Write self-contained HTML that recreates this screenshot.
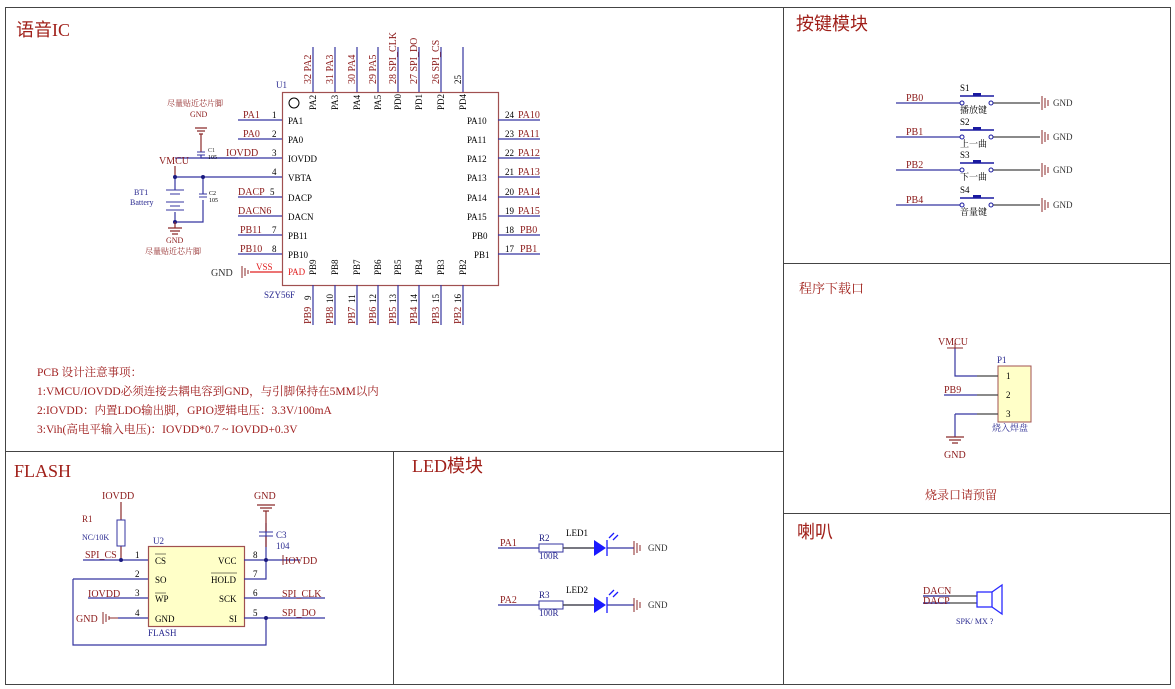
<!DOCTYPE html>
<html><head><meta charset="utf-8"><style>
html,body{margin:0;padding:0;background:#fff;}
svg{display:block;font-family:"Liberation Serif","Noto Serif CJK SC",serif;}
.t{fill:#000;font-size:9px}
.r{fill:#8b1a1a;font-size:10px}
.b{fill:#2a2a90;font-size:9px}
.w{stroke:#3535a0;stroke-width:1.2;fill:none}
.k{stroke:#444;stroke-width:1.2;fill:none}
.g{stroke:#8b2a2a;stroke-width:1.2;fill:none}
.h{fill:#a0201a;font-size:18px;font-family:"Liberation Serif","Noto Sans CJK SC",serif}
</style></head><body>
<svg width="1175" height="689" viewBox="0 0 1175 689">
<!-- frames -->
<g stroke="#444" stroke-width="1" fill="none">
<rect x="5.5" y="7.5" width="1165" height="677"/>
<line x1="783.5" y1="7" x2="783.5" y2="684"/>
<line x1="5" y1="451.5" x2="783" y2="451.5"/>
<line x1="393.5" y1="451" x2="393.5" y2="684"/>
<line x1="783" y1="263.5" x2="1170" y2="263.5"/>
<line x1="783" y1="513.5" x2="1170" y2="513.5"/>
</g>
<text x="16" y="36" class="h">语音IC</text>
<text x="796" y="30" class="h">按键模块</text>
<text x="14" y="477" class="h">FLASH</text>
<text x="412" y="472" class="h">LED模块</text>
<text x="797" y="538" class="h">喇叭</text>
<text x="799" y="293" style="fill:#a0201a;font-size:13px">程序下载口</text>
<text x="925" y="499" style="fill:#a0201a;font-size:12px">烧录口请预留</text>

<!-- U1 -->
<rect x="282.5" y="92.5" width="216" height="193" fill="#fff" stroke="#a05050" stroke-width="1.2"/>
<circle cx="294" cy="103" r="5" fill="none" stroke="#000"/>
<text x="276" y="88" class="b">U1</text>
<text x="264" y="298" class="b">SZY56F</text>
<!-- top pins -->
<g class="w">
<path d="M313 47V92M335 47V92M357 47V92M378 47V92M398 47V92M419 47V92M441 47V92M463 47V92"/>
<path d="M313 285V325M335 285V325M357 285V325M378 285V325M398 285V325M419 285V325M441 285V325M463 285V325"/>
<path d="M238 120H282M238 139H282M175 158H282M175 177H282M238 197H282M238 216H282M238 235H282M238 254H282"/>
<path d="M498 120H540M498 139H540M498 158H540M498 177H540M498 197H540M498 216H540M498 235H540M498 254H540"/>
</g>
<g style="font-size:9px" class="t">
<g transform="rotate(-90)">
<text x="-84" y="311" class="r">32 PA2</text><text x="-84" y="333" class="r">31 PA3</text><text x="-84" y="355" class="r">30 PA4</text><text x="-84" y="376" class="r">29 PA5</text><text x="-84" y="396" class="r">28 SPI_CLK</text><text x="-84" y="417" class="r">27 SPI_DO</text><text x="-84" y="439" class="r">26 SPI_CS</text><text x="-84" y="461">25</text>
<text x="-110" y="316">PA2</text><text x="-110" y="338">PA3</text><text x="-110" y="360">PA4</text><text x="-110" y="381">PA5</text><text x="-110" y="401">PD0</text><text x="-110" y="422">PD1</text><text x="-110" y="444">PD2</text><text x="-110" y="466">PD4</text>
<text x="-275" y="316">PB9</text><text x="-275" y="338">PB8</text><text x="-275" y="360">PB7</text><text x="-275" y="381">PB6</text><text x="-275" y="401">PB5</text><text x="-275" y="422">PB4</text><text x="-275" y="444">PB3</text><text x="-275" y="466">PB2</text>
<text x="-300" y="311">9</text><text x="-303" y="333">10</text><text x="-303" y="355">11</text><text x="-303" y="376">12</text><text x="-303" y="396">13</text><text x="-303" y="417">14</text><text x="-303" y="439">15</text><text x="-303" y="461">16</text>
<text x="-324" y="311" class="r">PB9</text><text x="-324" y="333" class="r">PB8</text><text x="-324" y="355" class="r">PB7</text><text x="-324" y="376" class="r">PB6</text><text x="-324" y="396" class="r">PB5</text><text x="-324" y="417" class="r">PB4</text><text x="-324" y="439" class="r">PB3</text><text x="-324" y="461" class="r">PB2</text>
</g>
<text x="288" y="124">PA1</text><text x="288" y="143">PA0</text><text x="288" y="162">IOVDD</text><text x="288" y="181">VBTA</text><text x="288" y="201">DACP</text><text x="288" y="220">DACN</text><text x="288" y="239">PB11</text><text x="288" y="258">PB10</text>
<text x="288" y="275" style="fill:#e02020">PAD</text>
<text x="272" y="118">1</text><text x="272" y="137">2</text><text x="272" y="156">3</text><text x="272" y="175">4</text><text x="270" y="195">5</text><text x="270" y="214"></text><text x="272" y="233">7</text><text x="272" y="252">8</text>
<text x="243" y="118" class="r">PA1</text><text x="243" y="137" class="r">PA0</text><text x="226" y="156" class="r">IOVDD</text><text x="238" y="195" class="r">DACP</text><text x="238" y="214" class="r">DACN6</text><text x="240" y="233" class="r">PB11</text><text x="240" y="252" class="r">PB10</text>
<text x="467" y="124">PA10</text><text x="467" y="143">PA11</text><text x="467" y="162">PA12</text><text x="467" y="181">PA13</text><text x="467" y="201">PA14</text><text x="467" y="220">PA15</text><text x="472" y="239">PB0</text><text x="474" y="258">PB1</text>
<text x="505" y="118">24</text><text x="505" y="137">23</text><text x="505" y="156">22</text><text x="505" y="175">21</text><text x="505" y="195">20</text><text x="505" y="214">19</text><text x="505" y="233">18</text><text x="505" y="252">17</text>
<text x="518" y="118" class="r">PA10</text><text x="518" y="137" class="r">PA11</text><text x="518" y="156" class="r">PA12</text><text x="518" y="175" class="r">PA13</text><text x="518" y="195" class="r">PA14</text><text x="518" y="214" class="r">PA15</text><text x="520" y="233" class="r">PB0</text><text x="520" y="252" class="r">PB1</text>
</g>
<!-- VSS -->
<path d="M250 272H282" stroke="#e02020" stroke-width="1.2"/>
<text x="256" y="270" style="fill:#e02020;font-size:9px">VSS</text>
<path d="M242 266V278M245 268V276M248 270V274" stroke="#8b2a2a"/>
<text x="211" y="276" class="r" style="fill:#333">GND</text>
<!-- C1, C2, battery -->
<g class="g"><path d="M195 128H207M197 131H205M199 134H203M201 134V152"/></g>
<text x="167" y="106" class="r" style="font-size:8px">尽量贴近芯片脚</text>
<text x="190" y="117" class="r" style="font-size:8px">GND</text>
<path d="M197 152H205M197 155H205" stroke="#3535a0"/><path d="M201 155V158H238" class="w"/>
<text x="208" y="152" class="r" style="font-size:6px;fill:#333">C1</text><text x="208" y="159" style="font-size:6px">105</text>
<text x="159" y="164" class="r">VMCU</text>
<path d="M175 166V177" class="g"/>
<path d="M175 177V190M175 212V222M203 177V194M203 200V222H175" class="w"/>
<path d="M199 194H207M199 197H207" stroke="#3535a0"/>
<path d="M166 190H184M170 194H180M166 202H184M170 206H180M166 210H184" stroke="#3535a0"/>
<circle cx="175" cy="177" r="2" fill="#1a1a80"/><circle cx="203" cy="177" r="2" fill="#1a1a80"/><circle cx="175" cy="222" r="2" fill="#1a1a80"/>
<path d="M175 222V228M168 228H182M170 231H180M172 234H178" class="g"/>
<text x="209" y="195" style="font-size:6px">C2</text><text x="209" y="202" style="font-size:6px">105</text>
<text x="134" y="195" class="b" style="font-size:8px">BT1</text><text x="130" y="205" class="b" style="font-size:8px">Battery</text>
<text x="166" y="243" class="r" style="font-size:8px">GND</text>
<text x="145" y="254" class="r" style="font-size:8px">尽量贴近芯片脚</text>
<!-- notes -->
<g class="r" style="font-size:11.5px;fill:#a02020">
<text x="37" y="376">PCB 设计注意事项：</text>
<text x="37" y="395">1:VMCU/IOVDD必须连接去耦电容到GND，与引脚保持在5MM以内</text>
<text x="37" y="414">2:IOVDD：内置LDO输出脚，GPIO逻辑电压：3.3V/100mA</text>
<text x="37" y="433">3:Vih(高电平输入电压)：IOVDD*0.7 ~ IOVDD+0.3V</text>
</g>

<!-- FLASH U2 -->
<rect x="148.5" y="546.5" width="96" height="80" fill="#ffffc8" stroke="#a05050" stroke-width="1.2"/>
<text x="153" y="544" class="b">U2</text><text x="148" y="636" class="b">FLASH</text>
<g class="w"><path d="M83 560H148M73 579H148M73 579V645H266V618M88 598H148M118 618H148M244 560H300M244 579H266V560M266 560V523M244 598H325M244 618H325"/></g>
<text x="82" y="522" class="r" style="font-size:9px">R1</text><text x="82" y="540" class="b" style="font-size:8px">NC/10K</text>
<text x="102" y="499" class="r">IOVDD</text>
<path d="M121 502V520M121 546V560" class="g"/><rect x="117" y="520" width="8" height="26" fill="#fff" stroke="#3535a0"/>
<circle cx="121" cy="560" r="2" fill="#1a1a80"/><circle cx="266" cy="560" r="2" fill="#1a1a80"/><circle cx="266" cy="618" r="2" fill="#1a1a80"/>
<text x="85" y="558" class="r">SPI_CS</text><text x="88" y="597" class="r">IOVDD</text>
<text x="76" y="622" class="r">GND</text><path d="M103 612V624M106 614V622M109 616V620M109 618H118" stroke="#8b2a2a"/>
<text x="135" y="558" class="t">1</text><text x="135" y="577" class="t">2</text><text x="135" y="596" class="t">3</text><text x="135" y="616" class="t">4</text>
<text x="155" y="564" class="t">CS</text><text x="155" y="583" class="t">SO</text><text x="155" y="602" class="t">WP</text><text x="155" y="622" class="t">GND</text>
<path d="M155 554H166M155 593H166" stroke="#000" stroke-width=".6"/>
<text x="218" y="564" class="t">VCC</text><text x="211" y="583" class="t">HOLD</text><path d="M211 573H237" stroke="#000" stroke-width=".6"/><text x="219" y="602" class="t">SCK</text><text x="229" y="622" class="t">SI</text>
<text x="253" y="558" class="t">8</text><text x="253" y="577" class="t">7</text><text x="253" y="596" class="t">6</text><text x="253" y="616" class="t">5</text>
<text x="254" y="499" class="r">GND</text>
<path d="M257 505H275M260 508H272M263 511H269M266 511V532M266 536V547" class="g"/>
<path d="M259 532H273M259 536H273" stroke="#3535a0"/>
<text x="276" y="538" class="b">C3</text><text x="276" y="549" class="b">104</text>
<path d="M283 555V565" stroke="#8b2a2a"/><text x="285" y="564" class="r">IOVDD</text>
<text x="282" y="597" class="r">SPI_CLK</text><text x="282" y="616" class="r">SPI_DO</text>

<!-- LED -->
<g>
<path d="M498 548H539M549 548H594M607 548H634M498 605H539M549 605H594M607 605H634" class="w"/>
<rect x="539" y="544" width="24" height="8" fill="#fff" stroke="#3535a0"/><rect x="539" y="601" width="24" height="8" fill="#fff" stroke="#3535a0"/>
<path d="M563 548H594M563 605H594" class="k"/>
<path d="M594 540V556L606 548Z M594 597V613L606 605Z" fill="#1a1aff"/>
<path d="M607 540V556M607 597V613M609 538l5-5M613 540l5-5M609 595l5-5M613 597l5-5" stroke="#1a1aff" stroke-width="1.3"/>
<path d="M634 541V555M637 543V553M640 545V551M634 598V612M637 600V610M640 602V608" stroke="#8b2a2a"/>
<text x="500" y="546" class="r">PA1</text><text x="500" y="603" class="r">PA2</text>
<text x="539" y="541" class="t" style="fill:#1a1a80">R2</text><text x="539" y="559" class="b">100R</text>
<text x="539" y="598" class="t" style="fill:#1a1a80">R3</text><text x="539" y="616" class="b">100R</text>
<text x="566" y="536" class="t">LED1</text><text x="566" y="593" class="t">LED2</text>
<text x="648" y="551" class="r" style="font-size:9px;fill:#333">GND</text><text x="648" y="608" class="r" style="font-size:9px;fill:#333">GND</text>
</g>

<!-- keys -->
<g>
<path d="M896 103H961M896 137H961M896 170H961M896 205H961" class="w"/>
<path d="M992 103H1040M992 137H1040M992 170H1040M992 205H1040" class="k"/>
<path d="M960 96H994M960 130H994M960 163H994M960 198H994" stroke="#1a1aa0" stroke-width="1.5"/>
<rect x="973" y="93" width="8" height="3" fill="#1a1aa0"/><rect x="973" y="127" width="8" height="3" fill="#1a1aa0"/><rect x="973" y="160" width="8" height="3" fill="#1a1aa0"/><rect x="973" y="195" width="8" height="3" fill="#1a1aa0"/>
<g fill="#fff" stroke="#1a1aa0"><circle cx="962" cy="103" r="2"/><circle cx="991" cy="103" r="2"/><circle cx="962" cy="137" r="2"/><circle cx="991" cy="137" r="2"/><circle cx="962" cy="170" r="2"/><circle cx="991" cy="170" r="2"/><circle cx="962" cy="205" r="2"/><circle cx="991" cy="205" r="2"/></g>
<path d="M1042 96V110M1045 98V108M1048 100V106M1042 130V144M1045 132V142M1048 134V140M1042 163V177M1045 165V175M1048 167V173M1042 198V212M1045 200V210M1048 202V208" stroke="#8b2a2a"/>
<g class="r" style="font-size:9px;fill:#333"><text x="1053" y="106">GND</text><text x="1053" y="140">GND</text><text x="1053" y="173">GND</text><text x="1053" y="208">GND</text></g>
<g class="r"><text x="906" y="101">PB0</text><text x="906" y="135">PB1</text><text x="906" y="168">PB2</text><text x="906" y="203">PB4</text></g>
<g class="t"><text x="960" y="91">S1</text><text x="960" y="125">S2</text><text x="960" y="158">S3</text><text x="960" y="193">S4</text>
<text x="960" y="113">播放键</text><text x="960" y="147">上一曲</text><text x="960" y="180">下一曲</text><text x="960" y="215">音量键</text></g>
</g>

<!-- P1 -->
<rect x="998" y="366" width="33" height="56" fill="#ffffc8" stroke="#a05050"/>
<text x="997" y="363" class="b">P1</text>
<path d="M955 348V376H977M944 395H977M955 414H977M955 414V437" class="w"/>
<path d="M977 376H998M977 395H998M977 414H998" class="k"/>
<path d="M947 348H963M955 343V348" stroke="#8b2a2a"/>
<text x="938" y="345" class="r">VMCU</text><text x="944" y="393" class="r">PB9</text>
<path d="M946 437H964M949 440H961M952 443H958" class="g"/><text x="944" y="458" class="r">GND</text>
<text x="1006" y="379" class="t">1</text><text x="1006" y="398" class="t">2</text><text x="1006" y="417" class="t">3</text>
<text x="992" y="431" class="b">烧入焊盘</text>

<!-- speaker -->
<path d="M923 596H977M923 603H977" class="k"/><path d="M923 596H950M923 603H950" class="w"/>
<rect x="977" y="592" width="15" height="15" fill="#fff" stroke="#2a2aff" stroke-width="1.3"/>
<path d="M992 592L1002 585V614L992 607" fill="none" stroke="#2a2aff" stroke-width="1.3"/>
<text x="923" y="594" class="r">DACN</text><text x="923" y="604" class="r">DACP</text>
<text x="956" y="624" class="b" style="font-size:8px">SPK/ MX ?</text>
</svg>
</body></html>
